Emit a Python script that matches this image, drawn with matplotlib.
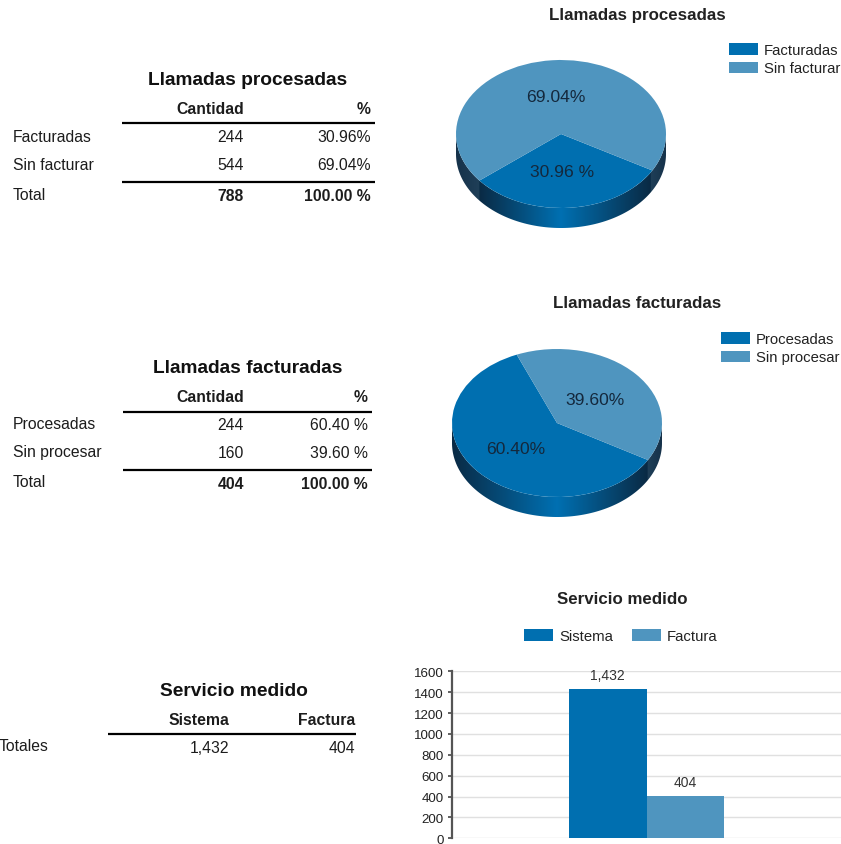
import numpy as np
import matplotlib
matplotlib.use('Agg')
import matplotlib.pyplot as plt
from matplotlib.colors import LinearSegmentedColormap
from matplotlib.patches import Patch, Polygon

plt.rcParams['font.family'] = ['Liberation Sans', 'DejaVu Sans']

W, H = 841, 845
DARK = '#006FB0'
LIGHT = '#4F95BF'
TXT = '#1c1c1c'
FS = 11.3

# data
proc_labels = ['Facturadas', 'Sin facturar']
proc_cant = ['244', '544']
proc_pct = ['30.96%', '69.04%']
proc_total = ['788', '100.00 %']
proc_values = [30.96, 69.04]
proc_pie_text = ['30.96 %', '69.04%']

fact_labels = ['Procesadas', 'Sin procesar']
fact_cant = ['244', '160']
fact_pct = ['60.40 %', '39.60 %']
fact_total = ['404', '100.00 %']
fact_values = [60.40, 39.60]
fact_pie_text = ['60.40%', '39.60%']

serv_labels = ['Sistema', 'Factura']
serv_values = [1432, 404]
serv_text = ['1,432', '404']
y_ticks = [0, 200, 400, 600, 800, 1000, 1200, 1400, 1600]

fig = plt.figure(figsize=(W / 100, H / 100), dpi=100)

# page-level axes in pixels, used for the tables and the titles
page = fig.add_axes([0, 0, 1, 1])
page.set_xlim(0, W)
page.set_ylim(H, 0)
page.axis('off')
page.set_zorder(10)


def px_axes(left, top, right, bottom, **kw):
    return fig.add_axes([left / W, 1 - bottom / H, (right - left) / W, (bottom - top) / H], **kw)


def table(title, tx, ty, x0, x1, xc, xp, yh, rows, labels, cant, pct, total):
    page.text(tx, ty, title, fontsize=13.75, fontweight='bold', color='#111111', ha='center', va='center')
    page.text(xc, yh, 'Cantidad', fontsize=FS, fontweight='bold', color=TXT, ha='right', va='center')
    page.text(xp, yh, '%', fontsize=FS, fontweight='bold', color=TXT, ha='right', va='center')
    page.plot([x0, x1], [yh + 14.5, yh + 14.5], color='black', lw=1.6, solid_capstyle='butt')
    for y, lab, c, p in zip(rows, labels, cant, pct):
        page.text(13, y - 1, lab, fontsize=FS, color=TXT, va='center')
        page.text(xc, y, c, fontsize=FS, color=TXT, ha='right', va='center')
        page.text(xp, y, p, fontsize=FS, color=TXT, ha='right', va='center')
    yl = rows[1] + 16.5
    page.plot([x0, x1], [yl, yl], color='black', lw=1.6, solid_capstyle='butt')
    page.text(13, yl + 12.5, 'Total', fontsize=FS, color=TXT, va='center')
    page.text(xc, yl + 14, total[0], fontsize=FS, fontweight='bold', color=TXT, ha='right', va='center')
    page.text(xp, yl + 14, total[1], fontsize=FS, fontweight='bold', color=TXT, ha='right', va='center')


def pie3d(cx, cy, rx, ry, depth, values, start, text, text_xy, title, title_x, title_y, rim_stops):
    # axes spans the whole ellipse plus the rim below it
    ax = px_axes(cx - rx, cy - ry, cx + rx, cy + ry + depth)
    d = depth / ry
    ax.pie(values, colors=[DARK, LIGHT], startangle=start, radius=1, center=(0, 0),
           wedgeprops={'linewidth': 0}, frame=True)
    ax.set_aspect('auto')
    ax.set_xlim(-1, 1)
    ax.set_ylim(-1 - d, 1)
    ax.axis('off')
    # rim: gradient clipped to the lower half ring
    t = np.linspace(np.pi, 2 * np.pi, 120)
    x, y = np.cos(t), np.sin(t)
    ring = Polygon(np.r_[np.c_[x, y], np.c_[x[::-1], y[::-1] - d]], closed=True, transform=ax.transData, fc='none', ec='none')
    ax.add_patch(ring)
    cm = LinearSegmentedColormap.from_list('rim', rim_stops, N=512)
    im = ax.imshow(np.linspace(0, 1, 512)[None, :], cmap=cm, extent=[-1, 1, -1 - d, 1], aspect='auto', zorder=0.5)
    im.set_clip_path(ring)
    for (tx, ty), s in zip(text_xy, text):
        page.text(tx, ty, s, fontsize=12.6, color='#14283c', ha='center', va='center')
    page.text(title_x, title_y, title, fontsize=12.2, fontweight='bold', color='#222222', ha='center', va='center')
    return ax


def legend(labels, x, y, ncol=1, colsp=0.0, fs=10.7):
    handles = [Patch(fc=c, ec='none') for c in [DARK, LIGHT]]
    fig.legend(handles, labels, loc='upper left', bbox_to_anchor=(x / W, 1 - y / H), ncol=ncol, frameon=False,
               fontsize=fs, handlelength=1.95, handleheight=0.8, handletextpad=0.4, labelspacing=0.3,
               columnspacing=colsp, borderpad=0, borderaxespad=0, labelcolor='#222222')


table('Llamadas procesadas', 248, 80.5, 122, 375, 244, 371, 109, [138, 166],
      proc_labels, proc_cant, proc_pct, proc_total)
table('Llamadas facturadas', 248, 368.5, 123, 372, 244, 368, 398, [426, 454],
      fact_labels, fact_cant, fact_pct, fact_total)

# third table has its own layout
page.text(234, 691.5, 'Servicio medido', fontsize=13.75, fontweight='bold', color='#111111', ha='center', va='center')
page.text(229, 721, 'Sistema', fontsize=FS, fontweight='bold', color=TXT, ha='right', va='center')
page.text(355, 721, 'Factura', fontsize=FS, fontweight='bold', color=TXT, ha='right', va='center')
page.plot([108, 356], [734.5, 734.5], color='black', lw=1.6, solid_capstyle='butt')
page.text(-1, 746.5, 'Totales', fontsize=FS, color=TXT, va='center')
page.text(229, 749, serv_text[0], fontsize=FS, color=TXT, ha='right', va='center')
page.text(355, 749, serv_text[1], fontsize=FS, color=TXT, ha='right', va='center')

rim1 = [(0, '#16324a'), (0.11, '#1f3f58'), (0.11, '#0a2a44'), (0.5, '#0070b2'),
        (0.928, '#0a2a44'), (0.928, '#1f3f58'), (1, '#16324a')]
rim2 = [(0, '#0a2a44'), (0.5, '#0070b2'), (0.933, '#0a2a44'), (0.933, '#1f3f58'), (1, '#16324a')]

pie3d(561, 135, 105, 74, 20, proc_values, 219, proc_pie_text, [(562, 172.5), (556, 97.5)],
      'Llamadas procesadas', 637.5, 15.5, rim1)
legend(proc_labels, 729, 44)

pie3d(557, 424, 105, 74, 20, fact_values, 112.56, fact_pie_text, [(516, 449.5), (595, 400.5)],
      'Llamadas facturadas', 637.5, 304, rim2)
legend(fact_labels, 721, 333)

# bar chart
bx = px_axes(452, 672.3, 841, 839.3)
pos = [-0.1, 0.1]
bx.bar(pos, serv_values, width=0.2, color=[DARK, LIGHT], zorder=3)
for p, v, s in zip(pos, serv_values, serv_text):
    bx.text(p, v + 65, s, fontsize=10, color='#333333', ha='center', va='bottom', zorder=4)
bx.set_xlim(-0.5, 0.5)
bx.set_ylim(0, 1600)
bx.set_xticks([])
bx.set_yticks(y_ticks)
bx.tick_params(axis='y', labelsize=9.6, length=3, width=1.2, color='#444444', labelcolor='#222222', pad=3)
bx.grid(axis='y', color='#e0e0e0', lw=1, zorder=0)
bx.set_axisbelow(True)
for s in ['top', 'right', 'bottom']:
    bx.spines[s].set_visible(False)
bx.spines['left'].set_color('#555555')
bx.spines['left'].set_linewidth(1.6)
bx.patch.set_alpha(0)

page.text(622.5, 600, 'Servicio medido', fontsize=12.2, fontweight='bold', color='#222222', ha='center', va='center')
legend(serv_labels, 524, 630, ncol=2, colsp=1.3)

fig.savefig('out.png', dpi=100)
